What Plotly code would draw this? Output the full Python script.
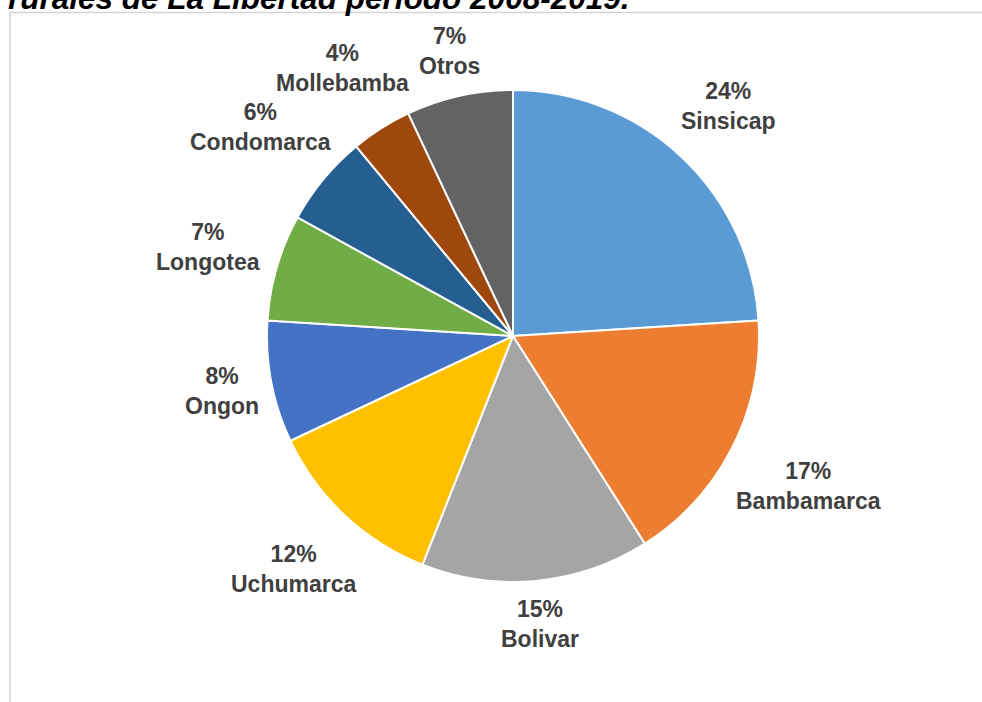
import math
import plotly.graph_objects as go

# Distribution by locality (%)
localities = ["Sinsicap", "Bambamarca", "Bolivar", "Uchumarca", "Ongon",
              "Longotea", "Condomarca", "Mollebamba", "Otros"]
shares = [24, 17, 15, 12, 8, 7, 6, 4, 7]
slice_colors = ["#5B9BD5", "#ED7D31", "#A5A5A5", "#FFC000", "#4472C4",
                "#70AD47", "#255E91", "#9E480E", "#636363"]
title_text = "rurales de La Libertad periodo 2008-2019."

W, H = 982, 702
cx, cy, R = 513, 336, 246   # pie centre and radius in pixels
LABEL_SIZE = 23
LABEL_GAP = 11
LINE_H = 28

fig = go.Figure()
fig.add_trace(go.Pie(
    labels=localities,
    values=shares,
    sort=False,
    direction="clockwise",
    rotation=0,
    marker=dict(colors=slice_colors, line=dict(color="white", width=2)),
    textinfo="none",
    automargin=False,
    showlegend=False,
    hoverinfo="label+percent",
    domain=dict(x=[(cx - R) / W, (cx + R) / W], y=[1 - (cy + R) / H, 1 - (cy - R) / H]),
))

# Outside-end data labels: each box sits just beyond the rim at its slice's mid-angle
total = sum(shares)
cum = 0.0
for name, v in zip(localities, shares):
    mid = (cum + v / 2) / total * 2 * math.pi   # clockwise from 12 o'clock
    cum += v
    ux, uy = math.sin(mid), math.cos(mid)
    pct = f"{round(100 * v / total)}%"
    half_w = 0.6 * LABEL_SIZE * max(len(pct), len(name)) / 2
    half_h = LINE_H
    d = R + LABEL_GAP + half_w * abs(ux) + half_h * abs(uy)
    px, py = cx + d * ux, cy - d * uy
    fig.add_annotation(text=f"<b>{pct}<br>{name}</b>",
                       xref="paper", yref="paper", x=px / W, y=1 - py / H,
                       xanchor="center", yanchor="middle", showarrow=False,
                       font=dict(family="Liberation Sans, Arial", size=LABEL_SIZE, color="#404040"))

# Chart frame
fig.add_shape(type="rect", xref="paper", yref="paper",
              x0=10 / W, x1=1.02, y0=-0.02, y1=1 - 12.5 / H,
              line=dict(color="#d4d4d4", width=1.5), fillcolor="rgba(0,0,0,0)")

# Caption line above the frame
fig.add_annotation(text="<b><i>" + title_text + "</i></b>",
                   xref="paper", yref="paper", x=6 / W, y=1 - 18 / H,
                   xanchor="left", yanchor="bottom", showarrow=False,
                   font=dict(family="Liberation Sans, Arial", size=31.5, color="black"))

fig.update_layout(width=W, height=H, margin=dict(l=0, r=0, t=0, b=0),
                  paper_bgcolor="white", plot_bgcolor="white")
fig.write_html("out.html")
